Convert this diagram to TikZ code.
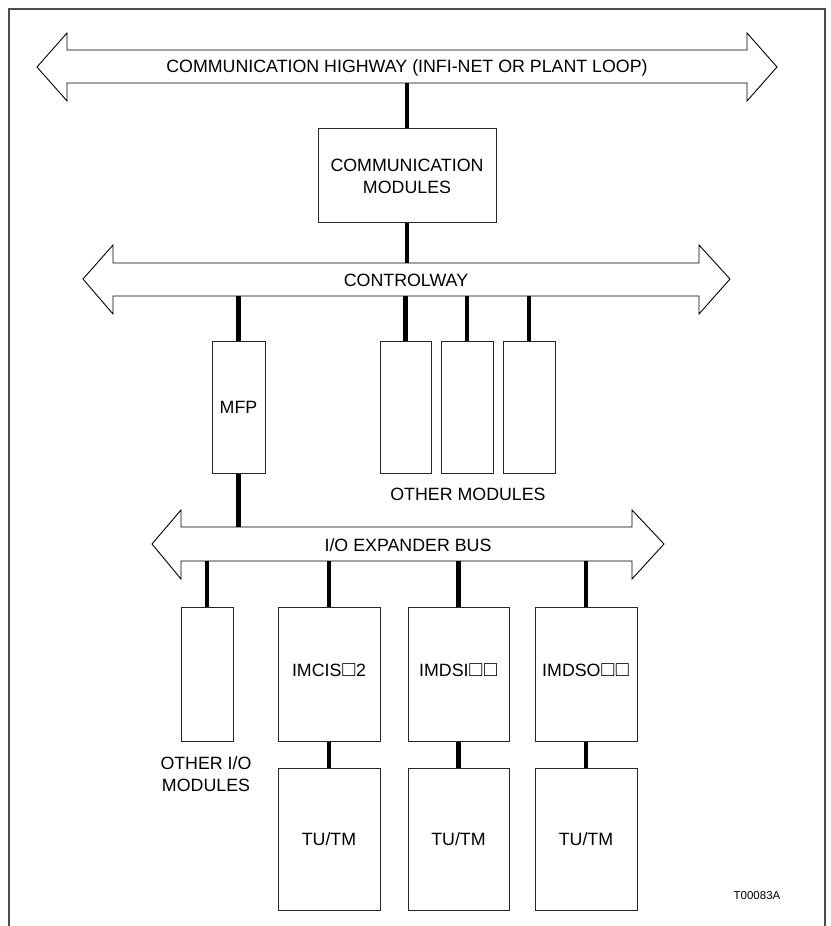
\documentclass[tikz,border=0pt]{standalone}
\usepackage{fontspec}
\setmainfont{Liberation Sans}
\newcommand\wsq{\kern0.8pt{\fontsize{21.5}{21}\selectfont □}\kern0.8pt}
\tikzset{
  frameline/.style={draw=black!70, line width=1.3pt},
  bus/.style={draw=black, line width=0.9pt, fill=white, line join=miter},
  box/.style={draw=black!85, line width=1pt, fill=white, inner sep=0pt},
  conn/.style={line width=4.5pt, black},
  lbl/.style={font=\fontsize{17.8}{21}\selectfont, inner sep=0pt, align=center}
}
\begin{document}
\begin{tikzpicture}[x=1pt, y=-1pt]
\useasboundingbox (0,0) rectangle (830,926);
\fill[white] (0,0) rectangle (830,926);
\draw[frameline] (9,926) -- (9,9) -- (825,9) -- (825,926);

% Communication highway
\draw[bus] (37,67) -- (67,33) -- (67,50) -- (747,50) -- (747,33) -- (777,67) -- (747,101) -- (747,83) -- (67,83) -- (67,101) -- cycle;
\node[lbl] (hw) at (407,68) {COMMUNICATION HIGHWAY (INFI-NET OR PLANT LOOP)};
\coordinate (hwbot) at (407,83);

% Controlway
\draw[bus] (83,279) -- (113,245) -- (113,263) -- (699,263) -- (699,245) -- (730,279) -- (699,314) -- (699,296) -- (113,296) -- (113,314) -- cycle;
\node[lbl] (cw) at (406,280) {CONTROLWAY};
\coordinate (cwtop) at (407,263);
\coordinate (cwbot) at (407,296);

% I/O expander bus
\draw[bus] (152,544) -- (181,510) -- (181,527) -- (632,527) -- (632,510) -- (664,544) -- (632,579) -- (632,561) -- (181,561) -- (181,579) -- cycle;
\node[lbl] (io) at (408,545) {I/O EXPANDER BUS};
\coordinate (iotop) at (408,527);
\coordinate (iobot) at (408,561);

% Communication modules
\node[box, minimum width=178pt, minimum height=94pt] (comm) at (407,175) {};
\node[lbl] (commtxt) at (407,176) {COMMUNICATION\\[1pt]MODULES};

% MFP
\node[box, minimum width=53pt, minimum height=132pt] (mfp) at (238.5,407) {};
\node[lbl] (mfptxt) at (238.5,407) {MFP};

% Other modules
\node[box, minimum width=51pt, minimum height=132pt] (om1) at (405.5,407) {};
\node[box, minimum width=52pt, minimum height=132pt] (om2) at (467,407) {};
\node[box, minimum width=52pt, minimum height=132pt] (om3) at (529,407) {};
\node[lbl] (omtxt) at (468,494) {OTHER MODULES};

% I/O modules
\node[box, minimum width=52pt, minimum height=134pt] (oio) at (207,674) {};
\node[lbl] (oiotxt) at (206,774) {OTHER I/O\\[1pt]MODULES};
\node[box, minimum width=102pt, minimum height=134pt] (cis) at (329,674) {};
\node[lbl, anchor=base] (cistxt) at (329,676) {IMCIS\wsq2};
\node[box, minimum width=101pt, minimum height=134pt] (dsi) at (458.5,674) {};
\node[lbl, anchor=base] (dsitxt) at (458.5,676) {IMDSI\wsq\wsq};
\node[box, minimum width=102pt, minimum height=134pt] (dso) at (586,674) {};
\node[lbl, anchor=base] (dsotxt) at (586,676) {IMDSO\wsq\wsq};

% TU/TM
\node[box, minimum width=102pt, minimum height=142pt] (tu1) at (329,839) {};
\node[lbl] (tu1txt) at (329,839) {TU/TM};
\node[box, minimum width=101pt, minimum height=142pt] (tu2) at (458.5,839) {};
\node[lbl] (tu2txt) at (458.5,839) {TU/TM};
\node[box, minimum width=102pt, minimum height=142pt] (tu3) at (586,839) {};
\node[lbl] (tu3txt) at (586,839) {TU/TM};

\node[font=\fontsize{11.5}{14}\selectfont, inner sep=0pt] (ref) at (757,896) {T00083A};

% Connectors
\draw[conn] (hwbot) -- (hwbot |- comm.north);
\draw[conn] (cwtop) -- (cwtop |- comm.south);
\draw[conn] (mfp.north) -- (mfp.north |- cwbot);
\draw[conn] (om1.north) -- (om1.north |- cwbot);
\draw[conn] (om2.north) -- (om2.north |- cwbot);
\draw[conn] (om3.north) -- (om3.north |- cwbot);
\draw[conn] (mfp.south) -- (mfp.south |- iotop);
\draw[conn] (oio.north) -- (oio.north |- iobot);
\draw[conn] (cis.north) -- (cis.north |- iobot);
\draw[conn] (dsi.north) -- (dsi.north |- iobot);
\draw[conn] (dso.north) -- (dso.north |- iobot);
\draw[conn] (cis.south) -- (tu1.north);
\draw[conn] (dsi.south) -- (tu2.north);
\draw[conn] (dso.south) -- (tu3.north);
\end{tikzpicture}
\end{document}
